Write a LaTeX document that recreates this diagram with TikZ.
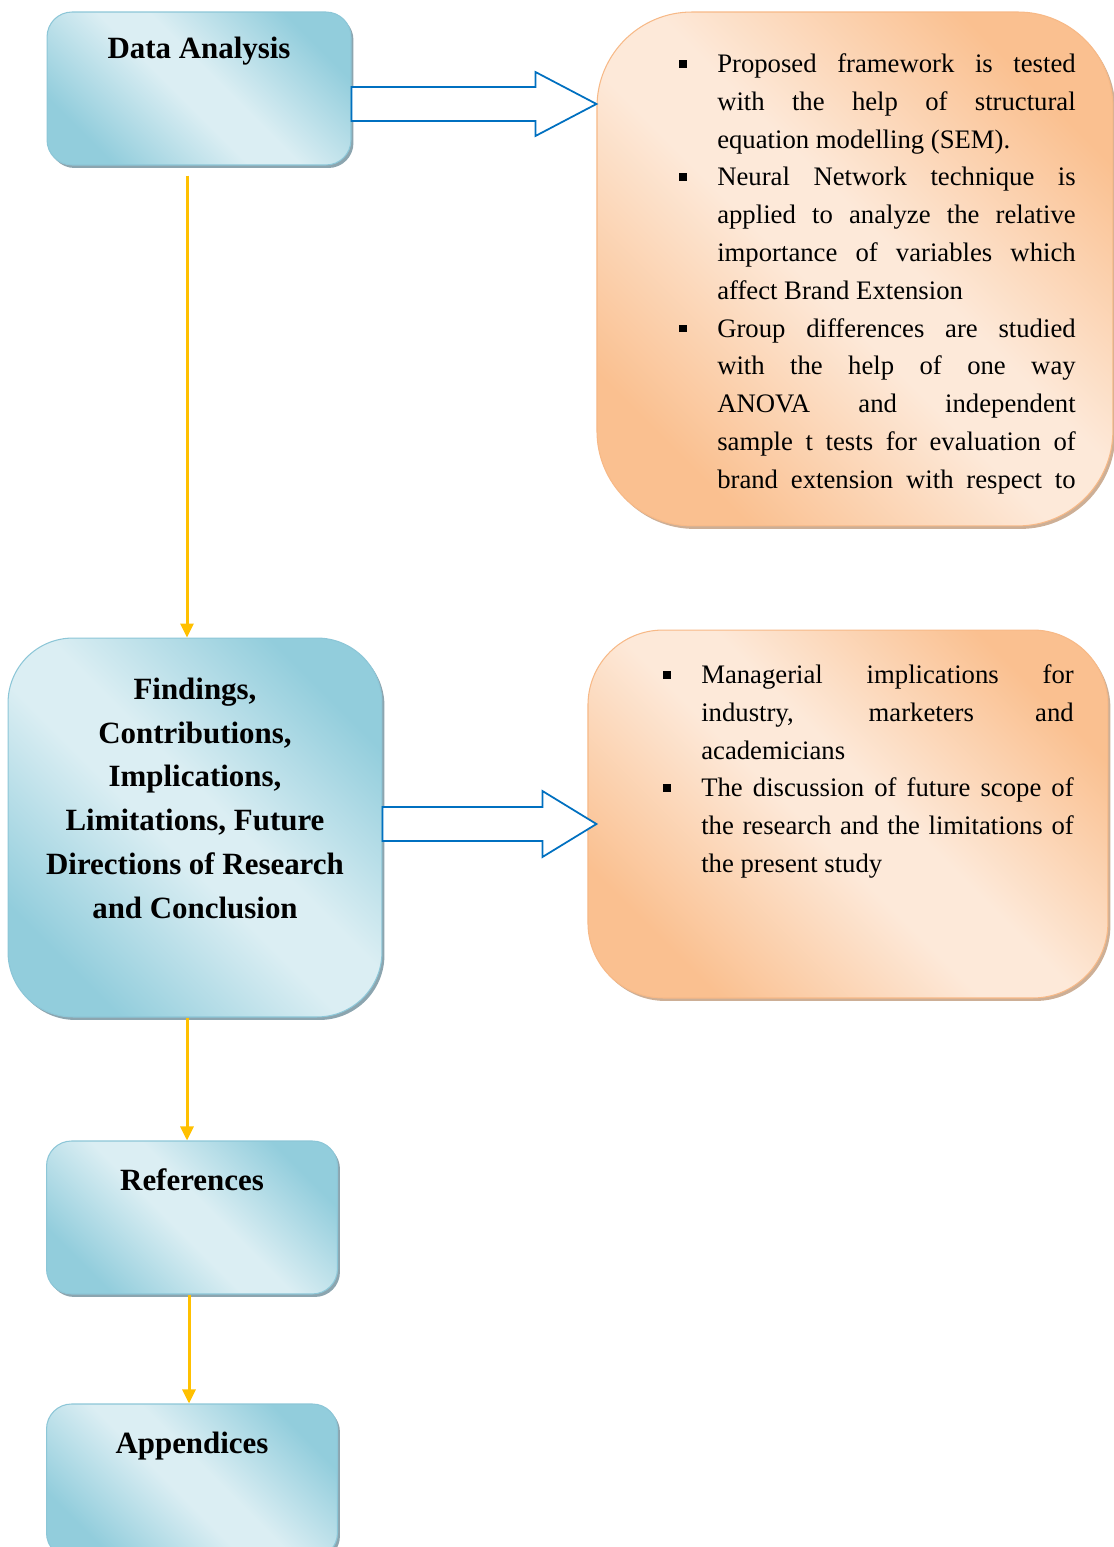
\documentclass[tikz,border=0pt]{standalone}
\usepackage{fontspec}
\setmainfont{Liberation Serif}
\usetikzlibrary{arrows.meta,positioning,calc,shadows}
\definecolor{bluedark}{RGB}{146,205,220}
\definecolor{bluelight}{RGB}{219,238,243}
\definecolor{bluedge}{RGB}{140,198,215}
\definecolor{blueshade}{RGB}{140,165,175}
\definecolor{orangedark}{RGB}{250,192,144}
\definecolor{orangelight}{RGB}{253,233,217}
\definecolor{orangeedge}{RGB}{247,185,135}
\definecolor{orangeshade}{RGB}{205,175,150}
\definecolor{arrowblue}{RGB}{0,112,192}
\definecolor{flowyellow}{RGB}{255,192,0}

% diagonal fills: dark corners, light band
\pgfdeclareverticalshading{bluegrad}{100bp}{color(0bp)=(bluedark); color(25bp)=(bluedark);
  color(46bp)=(bluelight); color(54bp)=(bluelight); color(75bp)=(bluedark); color(100bp)=(bluedark)}
\pgfdeclareverticalshading{orangegrad}{100bp}{color(0bp)=(orangedark); color(25bp)=(orangedark);
  color(46bp)=(orangelight); color(54bp)=(orangelight); color(75bp)=(orangedark); color(100bp)=(orangedark)}

% square bullets for the note boxes
\newenvironment{sqlist}{\begin{list}{\rule[0.1cm]{0.15cm}{0.15cm}}{%
  \setlength\leftmargin{0.77cm}\setlength\labelsep{0.61cm}\setlength\labelwidth{0.15cm}%
  \setlength\itemsep{0pt}\setlength\parsep{0pt}\setlength\topsep{0pt}\setlength\partopsep{0pt}}}%
  {\end{list}}

\begin{document}
\begin{tikzpicture}[
  x=0.02cm, y=-0.02cm,
  bluebox/.style={draw=bluedge, line width=0.6pt, rounded corners=0.5cm,
    shading=bluegrad, shading angle=-45,
    drop shadow={shadow xshift=0.05cm, shadow yshift=-0.06cm, fill=blueshade, opacity=1}},
  orangebox/.style={draw=orangeedge, line width=0.6pt,
    shading=orangegrad, shading angle=-45,
    drop shadow={shadow xshift=0.05cm, shadow yshift=-0.06cm, fill=orangeshade, opacity=1}},
  title/.style={font=\fontsize{17.6}{24.9}\selectfont\bfseries, align=center, inner sep=0pt},
  points/.style={font=\fontsize{15.2}{21.5}\selectfont, align=justify, inner sep=0pt, anchor=north west},
  flow/.style={-{Triangle[width=0.26cm,length=0.28cm]}, flowyellow, line width=0.06cm},
  hollow/.style={draw=arrowblue, fill=white, line width=1pt, line join=miter}
]
  \useasboundingbox (0,0) rectangle (1114,1547);

  % boxes
  \node[bluebox, minimum width=6.08cm, minimum height=3.06cm] (da) at (199,88.5) {};
  \node[orangebox, rounded corners=1.9cm, minimum width=10.32cm, minimum height=10.28cm,
        right=4.9cm of da.north east, anchor=north west] (anal) {};
  \node[bluebox, rounded corners=1.3cm, minimum width=7.48cm, minimum height=7.58cm] (find) at (195,827.5) {};
  \node[orangebox, rounded corners=1.5cm, minimum width=10.4cm, minimum height=7.36cm,
        right=4.1cm of find.north east, anchor=north west, yshift=0.16cm] (impl) {};
  \node[bluebox, minimum width=5.82cm, minimum height=3.06cm, below=2.46cm of find, xshift=-0.06cm] (refs) {};
  \node[bluebox, minimum width=5.82cm, minimum height=3.08cm, below=2.18cm of refs] (app) {};

  % titles
  \node[title, anchor=base] (daT) at ([yshift=-0.95cm]da.north) {Data Analysis};
  \node[title, anchor=north] (findT) at ([yshift=-0.8cm]find.north)
    {Findings,\\Contributions,\\Implications,\\Limitations, Future\\Directions of Research\\and Conclusion};
  \node[title, anchor=base] (refsT) at ([yshift=-1.0cm]refs.north) {References};
  \node[title, anchor=base] (appT) at ([yshift=-1.0cm]app.north) {Appendices};

  % notes
  \node[points, text width=7.94cm] (analT) at ([xshift=1.64cm,yshift=-0.46cm]anal.north west) {%
    \begin{sqlist}
    \item Proposed framework is tested\linebreak with the help of structural\linebreak equation modelling (SEM).
    \item Neural Network technique is\linebreak applied to analyze the relative\linebreak importance of variables which\linebreak affect Brand Extension
    \item Group differences are studied\linebreak with the help of one way\linebreak ANOVA and independent\linebreak sample t tests for evaluation of\linebreak brand extension with respect to\parfillskip=0pt
    \end{sqlist}};
  \node[points, text width=8.22cm] (implT) at ([xshift=1.5cm,yshift=-0.32cm]impl.north west) {%
    \begin{sqlist}
    \item Managerial implications for\linebreak industry, marketers and\linebreak academicians
    \item The discussion of future scope of\linebreak the research and the limitations of\linebreak the present study
    \end{sqlist}};

  % flow arrows
  \draw[flow] ([xshift=-0.24cm,yshift=-0.2cm]da.south) -- ([xshift=-0.24cm]da.south |- find.north);
  \draw[flow] ([xshift=-0.16cm]find.south) -- ([xshift=-0.16cm]find.south |- refs.north);
  \draw[flow] ([xshift=-0.06cm]refs.south) -- ([xshift=-0.06cm]refs.south |- app.north);

  % block arrows
  \coordinate (t1) at ([yshift=-0.31cm]da.east);
  \coordinate (q1) at (t1 -| anal.west);
  \draw[hollow] ($(t1)+(0,-17)$) -- ($(q1)+(-61,-17)$) -- ($(q1)+(-61,-32)$) -- (q1)
    -- ($(q1)+(-61,32)$) -- ($(q1)+(-61,17)$) -- ($(t1)+(0,17)$) -- cycle;
  \coordinate (t2) at ([yshift=0.07cm]find.east);
  \coordinate (q2) at ([xshift=0.18cm]t2 -| impl.west);
  \draw[hollow] ($(t2)+(0,-17)$) -- ($(q2)+(-54,-17)$) -- ($(q2)+(-54,-33)$) -- (q2)
    -- ($(q2)+(-54,33)$) -- ($(q2)+(-54,17)$) -- ($(t2)+(0,17)$) -- cycle;
\end{tikzpicture}
\end{document}
